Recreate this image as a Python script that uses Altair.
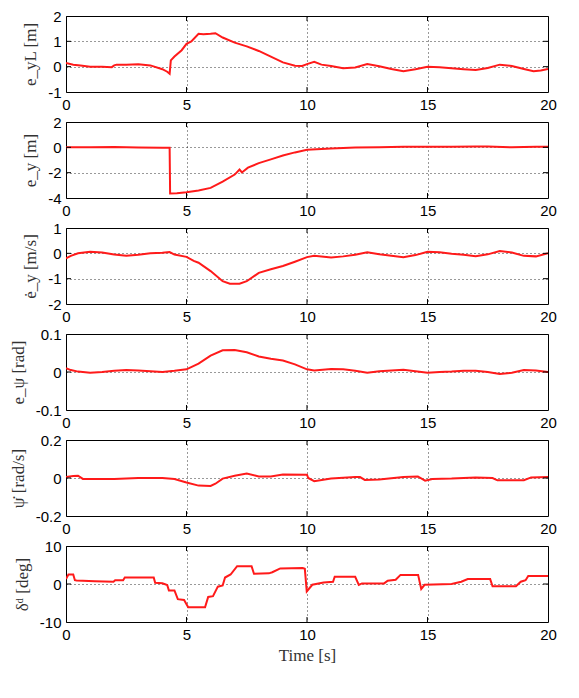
import altair as alt
import pandas as pd

# ---------------- data ----------------
t1 = [0, 0.3, 0.6, 1.0, 1.5, 1.9, 2.0, 2.1, 2.5, 3.0, 3.5, 4.0, 4.2, 4.3, 4.35, 4.5, 4.8, 5.0, 5.2, 5.5,
      5.7, 6.0, 6.2, 6.5, 7.0, 7.5, 8.0, 8.5, 9.0, 9.5, 9.8, 10.0, 10.3, 10.6, 11.0, 11.5, 12.0, 12.5,
      13.0, 13.5, 14.0, 14.5, 15.0, 15.5, 16.0, 16.5, 17.0, 17.5, 18.0, 18.5, 19.0, 19.4, 19.7, 20.0]
eyL = [0.15, 0.08, 0.05, 0.0, 0.0, -0.02, 0.05, 0.08, 0.08, 0.1, 0.05, -0.1, -0.2, -0.28, 0.25, 0.4,
       0.65, 0.9, 1.0, 1.3, 1.28, 1.3, 1.32, 1.15, 0.95, 0.8, 0.62, 0.4, 0.17, 0.04, 0.03, 0.1, 0.19,
       0.08, 0.03, -0.06, -0.03, 0.1, 0.02, -0.09, -0.18, -0.1, 0.0, -0.02, -0.06, -0.1, -0.13, -0.05,
       0.08, 0.03, -0.09, -0.18, -0.15, -0.09]

t2 = [0, 1, 2, 3, 4, 4.3, 4.32, 4.6, 5.0, 5.5, 6.0, 6.5, 7.0, 7.2, 7.3, 7.55, 8.0, 8.5, 9.0, 9.5, 10.0,
      11, 12, 13, 14, 15, 16, 17, 17.5, 18.5, 19.5, 20]
ey = [0, 0, 0.02, -0.02, -0.03, -0.03, -3.65, -3.63, -3.55, -3.4, -3.2, -2.7, -2.15, -1.75, -1.98, -1.6,
      -1.25, -0.95, -0.65, -0.4, -0.2, -0.1, -0.02, 0.0, 0.05, 0.05, 0.05, 0.06, 0.07, 0.0, 0.05, 0.05]

t3 = [0, 0.2, 0.5, 1, 1.5, 2, 2.5, 3, 3.5, 4, 4.3, 4.5, 5, 5.3, 5.5, 6, 6.5, 6.8, 7.2, 7.5, 8, 8.5, 9,
      9.5, 10, 10.3, 11, 11.5, 12, 12.5, 13, 13.5, 14, 14.5, 15, 15.5, 16, 16.5, 17, 17.5, 18, 18.5, 19,
      19.5, 20]
eydot = [-0.2, -0.1, 0.0, 0.06, 0.03, -0.05, -0.1, -0.06, 0.0, 0.02, 0.05, -0.05, -0.14, -0.3, -0.37,
         -0.7, -1.1, -1.2, -1.2, -1.1, -0.77, -0.63, -0.5, -0.33, -0.15, -0.1, -0.16, -0.12, -0.06, 0.04,
         -0.04, -0.1, -0.15, -0.07, 0.06, 0.04, -0.02, -0.06, -0.11, -0.04, 0.09, 0.03, -0.1, -0.12, 0.0]

t4 = [0, 0.2, 0.5, 1, 1.5, 2, 2.5, 3, 3.5, 4, 4.5, 5, 5.5, 6, 6.5, 7, 7.5, 8, 8.5, 9, 9.5, 10, 10.3,
      11, 11.5, 12, 12.5, 13, 13.5, 14, 14.5, 15, 15.5, 16, 16.5, 17, 17.5, 18, 18.5, 19, 19.5, 20]
epsi = [0.01, 0.005, 0.001, -0.002, 0.0, 0.003, 0.005, 0.004, 0.002, 0.0, 0.003, 0.007, 0.022, 0.043,
        0.057, 0.058, 0.052, 0.041, 0.035, 0.03, 0.02, 0.007, 0.004, 0.008, 0.007, 0.003, -0.002, 0.002,
        0.004, 0.006, 0.002, -0.002, 0.0, 0.001, 0.003, 0.003, 0.0, -0.005, -0.002, 0.005, 0.004, 0.0]

t5 = [0, 0.3, 0.5, 0.7, 1, 2, 3, 4, 4.5, 5, 5.5, 6, 6.2, 6.5, 7, 7.5, 8, 8.5, 9, 10, 10.05, 10.3, 11,
      12, 12.2, 12.4, 13, 14, 14.6, 14.9, 15.2, 16, 17, 17.7, 17.9, 19, 19.3, 20]
psidot = [0.005, 0.01, 0.012, -0.005, -0.005, -0.005, 0.0, 0.0, -0.005, -0.024, -0.04, -0.042, -0.03,
          -0.003, 0.012, 0.024, 0.008, 0.008, 0.018, 0.017, 0.0, -0.017, -0.003, 0.005, 0.005, -0.01,
          -0.008, 0.005, 0.008, -0.014, -0.005, -0.003, 0.003, 0.0, -0.012, -0.012, 0.003, 0.005]

t6 = [0, 0.1, 0.3, 0.37, 0.44, 1.2, 1.97, 2.04, 2.37, 2.44, 3.64, 3.7, 4.0, 4.2, 4.27, 4.5, 4.64, 4.9,
      5.07, 5.77, 5.9, 6.1, 6.3, 6.5, 6.6, 6.83, 7.1, 7.7, 7.8, 8.42, 8.56, 8.89, 9.82, 9.91, 9.99,
      10.22, 10.69, 11.08, 11.15, 12.0, 12.15, 12.28, 13.2, 13.35, 13.68, 13.88, 14.61, 14.74, 14.88,
      16.0, 16.4, 16.67, 17.6, 17.7, 18.67, 18.87, 19.07, 19.18, 20]
delta = [1.3, 2.5, 2.5, 1.0, 0.9, 0.7, 0.6, 1.0, 1.0, 1.7, 1.7, 0.3, 0.2, -0.25, -1.7, -1.7, -4.0, -4.2,
         -6.1, -6.1, -3.4, -3.2, -0.7, -0.4, 1.7, 2.5, 4.7, 4.7, 2.7, 2.8, 3.1, 4.1, 4.2, 4.0, -1.95,
         -0.2, 0.4, 0.6, 1.9, 1.9, -0.25, 0.15, 0.15, 0.85, 1.1, 2.4, 2.4, -1.3, -0.2, 0.0, 0.6, 1.3,
         1.3, -0.6, -0.6, 0.6, 1.0, 2.1, 2.1]

x_ticks = [0, 5, 10, 15, 20]

panels = [
    (t1, eyL, [-1, 2], [-1, 0, 1, 2], "e_yL [m]"),
    (t2, ey, [-4, 2], [-4, -2, 0, 2], "e_y [m]"),
    (t3, eydot, [-2, 1], [-2, -1, 0, 1], "ė_y [m/s]"),
    (t4, epsi, [-0.1, 0.1], [-0.1, 0, 0.1], "e_ψ [rad]"),
    (t5, psidot, [-0.2, 0.2], [-0.2, 0, 0.2], "ψ̇ [rad/s]"),
    (t6, delta, [-10, 10], [-10, 0, 10], "δᵈ [deg]"),
]

W, H = 482, 76
TICK = 5


def make_panel(t, v, dom, yt, title, last):
    df = pd.DataFrame({"t": t, "v": v})
    xscale = alt.Scale(domain=[0, 20], nice=False, zero=False)
    yscale = alt.Scale(domain=dom, nice=False, zero=False)
    xaxis = alt.Axis(values=x_ticks, title="Time [s]" if last else None, labelFlush=False,
                     labelOverlap=False, titlePadding=5)
    yaxis = alt.Axis(values=yt, title=title, labelExpr="datum.value + ''", labelOverlap=False,
                     labelFlush=False, titlePadding=8)
    X = alt.X("t:Q", scale=xscale, axis=xaxis)
    Y = alt.Y("v:Q", scale=yscale, axis=yaxis)
    line = alt.Chart(df).mark_line(color="#ff1a1a", strokeWidth=2, clip=True).encode(x=X, y=Y)
    xt = pd.DataFrame({"t": x_ticks[1:-1]})
    yt_df = pd.DataFrame({"v": yt[1:-1]})
    xtop = alt.Chart(xt).mark_rule(color="black", strokeWidth=1).encode(
        x=X, y=alt.value(0), y2=alt.value(TICK))
    xbot = alt.Chart(xt).mark_rule(color="black", strokeWidth=1).encode(
        x=X, y=alt.value(H - TICK), y2=alt.value(H))
    yl = alt.Chart(yt_df).mark_rule(color="black", strokeWidth=1).encode(
        y=Y, x=alt.value(0), x2=alt.value(TICK))
    yr = alt.Chart(yt_df).mark_rule(color="black", strokeWidth=1).encode(
        y=Y, x=alt.value(W - TICK), x2=alt.value(W))
    return alt.layer(line, xtop, xbot, yl, yr).properties(width=W, height=H)


charts = [make_panel(*p, last=(i == len(panels) - 1)) for i, p in enumerate(panels)]

chart = alt.vconcat(*charts, spacing=1).properties(
    padding={"top": 0, "bottom": 0, "left": 0, "right": 0}
).configure(
    background="white"
).configure_view(
    stroke="black", strokeWidth=1
).configure_axis(
    labelFont="Liberation Sans", labelFontSize=15, labelColor="black", labelPadding=5,
    domain=False, ticks=False, grid=True, gridColor="black", gridDash=[1, 3], gridOpacity=0.8,
    titleFont="Liberation Serif", titleFontSize=17, titleColor="#333333", titleFontWeight="normal",
)

chart.save("out.html", embed_options={"renderer": "svg", "actions": False})
